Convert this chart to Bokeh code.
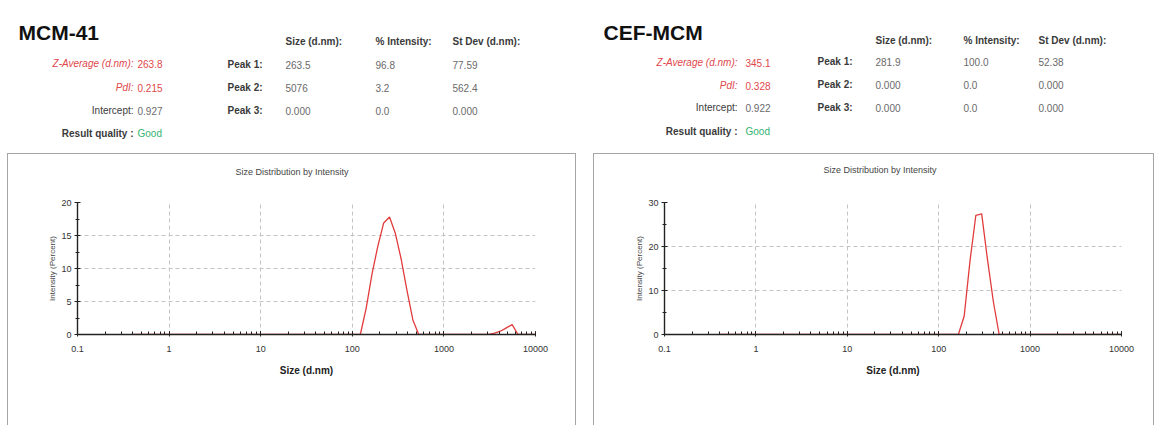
from bokeh.plotting import figure
from bokeh.models import (Range1d, ColumnDataSource, LogTicker, SingleIntervalTicker,
                          CustomJSTickFormatter, Spacer, LogAxis, FixedTicker)
from bokeh.layouts import column, row
from bokeh.core.properties import value
from bokeh.embed import file_html
from bokeh.resources import INLINE

FONT = "Liberation Sans"

# ---------------- data ----------------
sample_names = ["MCM-41", "CEF-MCM"]
stat_labels = ["Z-Average (d.nm):", "PdI:", "Intercept:", "Result quality :"]
mcm_stats = ["263.8", "0.215", "0.927", "Good"]
cef_stats = ["345.1", "0.328", "0.922", "Good"]
col_headers = ["Size (d.nm):", "% Intensity:", "St Dev (d.nm):"]
peak_labels = ["Peak 1:", "Peak 2:", "Peak 3:"]
mcm_peak_size = ["263.5", "5076", "0.000"]
mcm_peak_int = ["96.8", "3.2", "0.0"]
mcm_peak_sd = ["77.59", "562.4", "0.000"]
cef_peak_size = ["281.9", "0.000", "0.000"]
cef_peak_int = ["100.0", "0.0", "0.0"]
cef_peak_sd = ["52.38", "0.000", "0.000"]

chart_title = "Size Distribution by Intensity"
x_label = "Size (d.nm)"
y_label = "Intensity (Percent)"

# size classes (d.nm) and intensity (%)
mcm_size = [0.4, 122.4, 141.8, 164.2, 190.1, 220.2, 255.0, 295.3, 342.0, 396.1,
            458.7, 531.2, 3091, 3580, 4145, 4801, 5560, 6439, 10000]
mcm_int = [0.0, 0.0, 4.0, 9.2, 13.4, 16.9, 17.8, 15.3, 11.4, 6.6,
           2.2, 0.0, 0.0, 0.2, 0.5, 1.0, 1.5, 0.0, 0.0]
cef_size = [0.4, 164.2, 190.1, 220.2, 255.0, 295.3, 342.0, 396.1, 458.7, 10000]
cef_int = [0.0, 0.0, 4.2, 16.8, 27.1, 27.4, 17.0, 7.5, 0.0, 0.0]

RED = "#e0474c"
GREEN = "#35b372"
LABEL_C = "#3a3a3a"
VALUE_C = "#6a6a6a"

# ---------------- header ----------------
H = 153
hdr = figure(width=1159, height=H, x_range=Range1d(0, 1159), y_range=Range1d(H, 0),
             output_backend="svg", toolbar_location=None, min_border=0)
hdr.axis.visible = False
hdr.grid.visible = False
hdr.outline_line_color = None


def txt(xs, ys, texts, size, color, align="left", style="normal", baseline="middle"):
    src = ColumnDataSource(dict(x=xs, y=ys, t=texts, c=[color] * len(texts)))
    hdr.text("x", "y", text="t", source=src, text_color="c", text_font=value(FONT),
             text_font_size=size, text_align=align, text_baseline=baseline,
             text_font_style=style)


def header_block(x0, y0, name, stats, psize, pint, psd, lab_x, val_x, peak_x, cols_x, rows_y, prow_y, head_y):
    txt([x0], [y0], [name], "21px", "#111111", style="bold", baseline="alphabetic")
    txt([lab_x] * 2, rows_y[:2], stat_labels[:2], "10px", RED, align="right", style="italic")
    txt([lab_x], [rows_y[2]], [stat_labels[2]], "10px", LABEL_C, align="right")
    txt([lab_x], [rows_y[3]], [stat_labels[3]], "10px", LABEL_C, align="right", style="bold")
    txt([val_x] * 2, rows_y[:2], stats[:2], "10px", RED)
    txt([val_x], [rows_y[2]], [stats[2]], "10px", VALUE_C)
    txt([val_x], [rows_y[3]], [stats[3]], "10px", GREEN)
    txt(cols_x, [head_y] * 3, col_headers, "10px", LABEL_C, style="bold")
    txt([peak_x] * 3, prow_y, peak_labels, "10px", LABEL_C, style="bold")
    txt([cols_x[0]] * 3, prow_y, psize, "10px", VALUE_C)
    txt([cols_x[1]] * 3, prow_y, pint, "10px", VALUE_C)
    txt([cols_x[2]] * 3, prow_y, psd, "10px", VALUE_C)


header_block(18, 32, sample_names[0], mcm_stats, mcm_peak_size, mcm_peak_int, mcm_peak_sd,
             133, 137, 227, [285, 375, 452], [63, 87, 110, 133], [64, 87, 110], 41)
header_block(603, 32, sample_names[1], cef_stats, cef_peak_size, cef_peak_int, cef_peak_sd,
             737, 745, 817, [875, 963, 1038], [62, 85, 107, 131], [61, 84, 107], 40)


# ---------------- charts ----------------
def make_chart(sizes, ints, ymax, yint, width, height, bl, br, bt, bb, title_offset, title_pad):
    p = figure(width=width, height=height, x_axis_type="log",
               x_range=Range1d(0.1, 10000), y_range=Range1d(0, ymax),
               output_backend="svg", toolbar_location=None,
               min_border_left=bl, min_border_right=br, min_border_top=bt, min_border_bottom=bb)
    p.outline_line_color = None
    p.background_fill_color = "white"
    p.border_fill_color = "white"
    brd = "1px solid #a5a5a5"
    p.styles = {"border-top": brd, "border-left": brd, "border-right": brd}

    xa = p.below[0]
    ya = p.left[0]

    # invisible axis above the frame, only to push the title up
    pad = LogAxis(ticker=FixedTicker(ticks=[]), axis_line_color=None,
                  major_tick_line_color=None, minor_tick_line_color=None,
                  major_tick_in=0, major_tick_out=0, minor_tick_in=0, minor_tick_out=0,
                  major_label_standoff=0, axis_label="x", axis_label_text_alpha=0,
                  axis_label_text_font=FONT, axis_label_text_font_size="9px",
                  axis_label_standoff=title_pad)
    p.add_layout(pad, "above")

    p.title.text = chart_title
    p.title.align = "left"
    p.title.offset = title_offset
    p.title.standoff = 0
    p.title.vertical_align = "middle"
    p.title.text_font = FONT
    p.title.text_font_size = "9px"
    p.title.text_font_style = "normal"
    p.title.text_color = "#444444"

    p.line(sizes, ints, line_color="#e23b3b", line_width=1.3)

    xa.ticker = LogTicker(num_minor_ticks=10)
    xa.formatter = CustomJSTickFormatter(code="return Number(tick.toPrecision(6)).toString()")
    ya.ticker = SingleIntervalTicker(interval=yint, num_minor_ticks=2)

    for ax in (xa, ya):
        ax.axis_line_color = "#222222"
        ax.axis_line_width = 1.4
        ax.major_tick_line_color = "#222222"
        ax.minor_tick_line_color = "#222222"
        ax.major_label_text_font = FONT
        ax.major_label_text_font_size = "9px"
        ax.major_label_text_color = "#333333"
        ax.axis_label_text_font = FONT
    xa.major_tick_in = 3
    xa.major_tick_out = 2
    xa.minor_tick_in = 3
    xa.minor_tick_out = 0
    xa.major_label_standoff = 9
    xa.axis_label = x_label
    xa.axis_label_text_font_size = "10px"
    xa.axis_label_text_font_style = "bold"
    xa.axis_label_text_color = "#222222"
    xa.axis_label_standoff = 10

    ya.major_tick_in = 3
    ya.major_tick_out = 3
    ya.minor_tick_in = 2
    ya.minor_tick_out = 2
    ya.major_label_standoff = 3
    ya.axis_label = y_label
    ya.axis_label_text_font_size = "8px"
    ya.axis_label_text_font_style = "normal"
    ya.axis_label_text_color = "#444444"
    ya.axis_label_standoff = 1

    for g in (p.xgrid[0], p.ygrid[0]):
        g.grid_line_color = "#c4c4c4"
        g.grid_line_dash = "4 3"
    return p


left = make_chart(mcm_size, mcm_int, 20, 5, 569, 272, 69, 42, 48, 90, 158, 12)
right = make_chart(cef_size, cef_int, 30, 10, 561, 272, 70, 34, 44, 92, 159, 14)

layout = column(hdr, row(Spacer(width=7), left, Spacer(width=17), right))

open("out.html", "w").write(file_html(layout, INLINE))
